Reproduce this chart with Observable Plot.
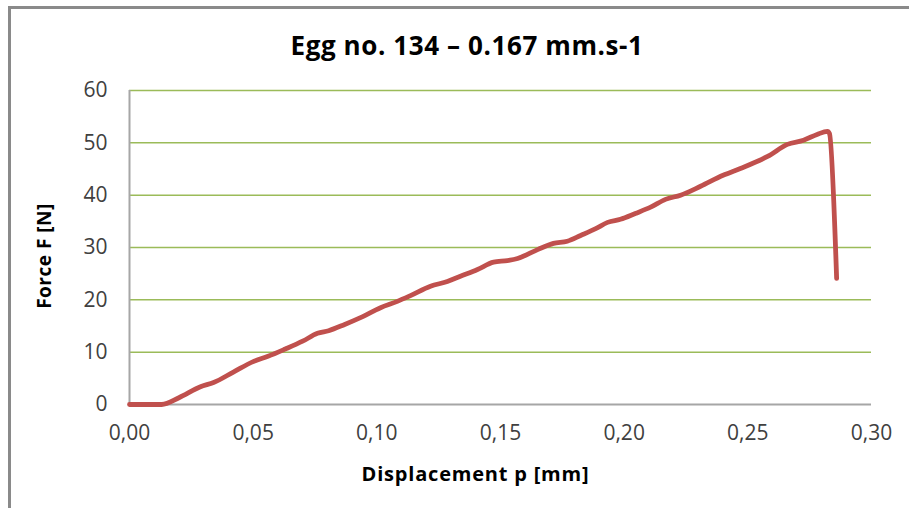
<!DOCTYPE html>
<html>
<head>
<meta charset="utf-8">
<script src="https://cdn.jsdelivr.net/npm/d3@7"></script>
<script src="https://cdn.jsdelivr.net/npm/@observablehq/plot@0.6"></script>
<style>
  html, body { margin: 0; padding: 0; background: #fff; }
  body { width: 909px; height: 508px; overflow: hidden; position: relative; font-family: "Open Sans", sans-serif; }
  #frame { position: absolute; left: 8px; top: 6px; width: 1000px; height: 1000px;
           border-left: 3px solid #8a8a8a; border-top: 3px solid #8a8a8a; box-sizing: border-box; }
  #title { position: absolute; top: 29px; left: 467px; transform: translateX(-50%); white-space: nowrap;
           font-size: 26px; line-height: 32px; font-weight: bold; color: #000; letter-spacing: 0.6px; }
  #ylabel { position: absolute; left: 44px; top: 256px; transform: translate(-50%, -50%) rotate(-90deg);
            white-space: nowrap; font-size: 19px; line-height: 24px; font-weight: bold; color: #000; letter-spacing: 0.5px; }
  #chart { position: absolute; left: 0; top: 70px; }
</style>
</head>
<body>
<div id="frame"></div>
<div id="title">Egg no. 134 – 0.167 mm.s-1</div>
<div id="chart"></div>
<div id="ylabel"></div>
<script>
// Displacement p [mm]
const displacement = [0, 0.013, 0.020, 0.0287, 0.034, 0.042, 0.050, 0.056, 0.063, 0.070, 0.076, 0.0805, 0.087,
  0.0934, 0.1015, 0.1083, 0.1136, 0.1217, 0.1285, 0.1338, 0.1407, 0.1472, 0.1528, 0.1569, 0.165, 0.1714,
  0.177, 0.1824, 0.1885, 0.1933, 0.1985, 0.2045, 0.2107, 0.2167, 0.2228, 0.2309, 0.240, 0.247, 0.258,
  0.266, 0.2725, 0.278, 0.2822, 0.283, 0.2859];
// Force F [N]
const force = [0, 0, 1.3, 3.4, 4.2, 6.2, 8.2, 9.2, 10.6, 12.1, 13.6, 14.1, 15.3,
  16.6, 18.5, 19.7, 20.8, 22.6, 23.5, 24.5, 25.8, 27.2, 27.5, 27.9, 29.6, 30.8,
  31.2, 32.3, 33.6, 34.8, 35.4, 36.5, 37.7, 39.2, 40.0, 41.7, 43.8, 45.1, 47.4,
  49.7, 50.5, 51.6, 52.2, 51.8, 24.1];
const xTicks = [0, 0.05, 0.10, 0.15, 0.20, 0.25, 0.30];
const yTicks = [0, 10, 20, 30, 40, 50, 60];
const xLabel = "Displacement p [mm]";
const yLabel = "Force F [N]";

document.getElementById("ylabel").textContent = yLabel;

const data = displacement.map((p, i) => ({p, f: force[i]}));

const chart = Plot.plot({
  width: 909,
  height: 438,
  marginLeft: 129,
  marginRight: 38,
  marginTop: 20,
  marginBottom: 104,
  style: {fontFamily: '"Open Sans", sans-serif', fontSize: "21px", color: "#404040", background: "transparent", overflow: "visible"},
  x: {domain: [0, 0.3], ticks: xTicks, tickFormat: d => d.toFixed(2).replace(".", ","), tickSize: 0, tickPadding: 21, label: null},
  y: {domain: [0, 60], ticks: yTicks, tickSize: 0, tickPadding: 22, label: null},
  marks: [
    Plot.ruleY(yTicks.filter(d => d > 0), {stroke: "#9bbb59", strokeWidth: 1.5}),
    Plot.ruleX([0], {stroke: "#a6a6a6", strokeWidth: 2}),
    Plot.ruleY([0], {stroke: "#a6a6a6", strokeWidth: 2}),
    Plot.line(data, {x: "p", y: "f", stroke: "#c0504d", strokeWidth: 4.8, curve: "monotone-x",
      strokeLinejoin: "round", strokeLinecap: "round"}),
    Plot.text([xLabel], {frameAnchor: "bottom", dx: -25, dy: 76, fontWeight: "bold", fontSize: 20, fill: "#000",
      style: "letter-spacing:0.8px"})
  ]
});
chart.querySelectorAll("text").forEach(t => { if (t.textContent === xLabel) t.setAttribute("letter-spacing", "0.8"); });
document.getElementById("chart").append(chart);
</script>
</body>
</html>
